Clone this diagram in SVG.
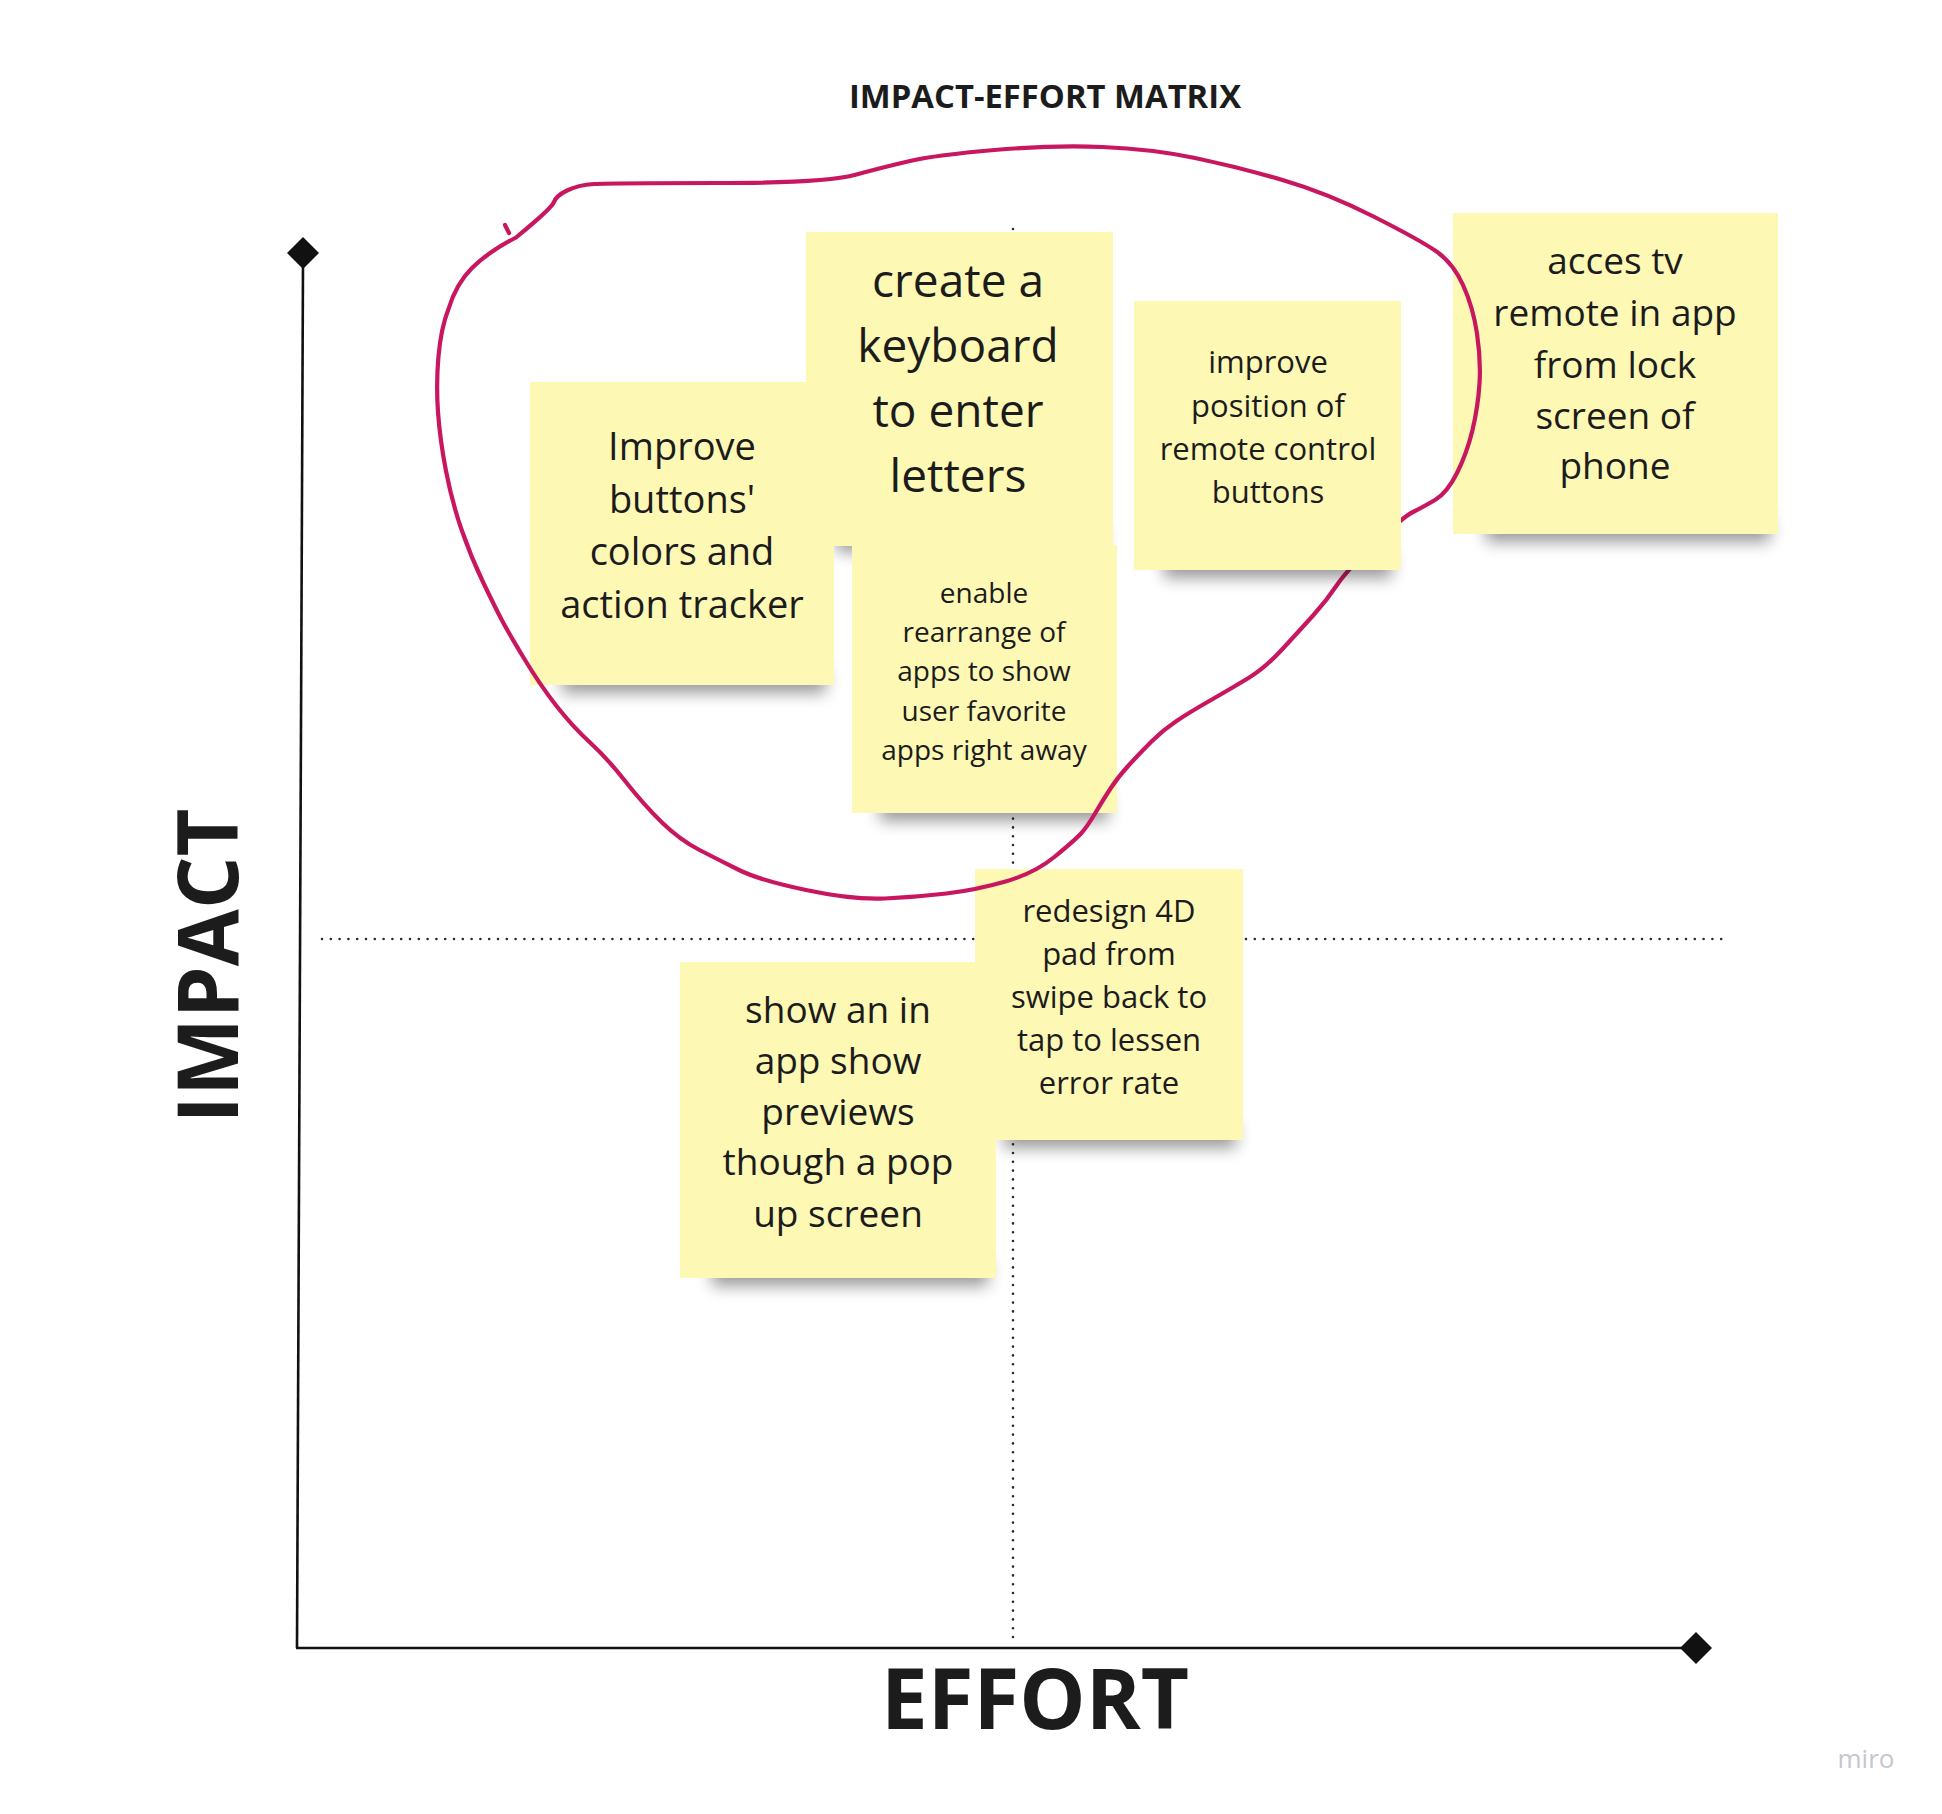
<svg xmlns="http://www.w3.org/2000/svg" width="1942" height="1814" viewBox="0 0 1942 1814">
<defs>
<style>
.note{fill:#fef8b5}
.sh{fill:#000;opacity:0.4;filter:url(#blur)}
.t{font-family:"Open Sans","Noto Sans","Liberation Sans",sans-serif;fill:#1c1c1c;text-anchor:middle}
.b{font-family:"Open Sans","Noto Sans","Liberation Sans",sans-serif;font-weight:700;fill:#1c1c1c;text-anchor:middle}
.dot{stroke:#2a2a2a;stroke-width:2.6;stroke-linecap:round;stroke-dasharray:0 8.8;fill:none}
.axis{stroke:#111;stroke-width:2.6;fill:none}
</style>
<filter id="blur" x="-20%" y="-80%" width="140%" height="260%"><feGaussianBlur stdDeviation="8"/></filter>
</defs>
<rect width="1942" height="1814" fill="#fff"/>
<text class="b" x="1045" y="108" font-size="32" textLength="392" lengthAdjust="spacingAndGlyphs">IMPACT-EFFORT MATRIX</text>
<g id="axes">
<line class="dot" x1="1013" y1="229" x2="1013" y2="1644"/>
<line class="dot" x1="322" y1="939" x2="1722" y2="939"/>
<line class="axis" x1="303" y1="262" x2="297" y2="1648"/>
<line class="axis" x1="296" y1="1648" x2="1690" y2="1648"/>
<polygon points="303,237 319,253 303,269 287,253" fill="#111"/>
<polygon points="1696,1632 1712,1648 1696,1664 1680,1648" fill="#111"/>
<text class="b" transform="translate(238,966) rotate(-90)" font-size="85" textLength="315" lengthAdjust="spacingAndGlyphs">IMPACT</text>
<text class="b" x="1035" y="1729" font-size="85" textLength="308" lengthAdjust="spacingAndGlyphs">EFFORT</text>
</g>
<g id="note-keyboard">
<rect class="sh" x="836" y="528" width="268" height="24"/>
<rect class="note" x="806" y="232" width="307" height="314"/>
<text class="t" font-size="46"><tspan x="958" y="297">create a</tspan><tspan x="958" y="362">keyboard</tspan><tspan x="958" y="427">to enter</tspan><tspan x="958" y="492">letters</tspan></text>
</g>
<g id="note-improve-buttons">
<rect class="sh" x="562" y="667" width="264" height="26"/>
<rect class="note" x="530" y="382" width="304" height="303"/>
<text class="t" font-size="38"><tspan x="682" y="460">Improve</tspan><tspan x="682" y="513">buttons'</tspan><tspan x="682" y="565">colors and</tspan><tspan x="682" y="618">action tracker</tspan></text>
</g>
<g id="note-enable">
<rect class="sh" x="880" y="795" width="228" height="26"/>
<rect class="note" x="852" y="545" width="265" height="268"/>
<text class="t" font-size="28"><tspan x="984" y="603">enable</tspan><tspan x="984" y="642">rearrange of</tspan><tspan x="984" y="681">apps to show</tspan><tspan x="984" y="721">user favorite</tspan><tspan x="984" y="760">apps right away</tspan></text>
</g>
<g id="note-acces">
<rect class="sh" x="1486" y="516" width="284" height="26"/>
<rect class="note" x="1453" y="213" width="325" height="321"/>
<text class="t" font-size="37"><tspan x="1615" y="274">acces tv</tspan><tspan x="1615" y="326">remote in app</tspan><tspan x="1615" y="378">from lock</tspan><tspan x="1615" y="429">screen of</tspan><tspan x="1615" y="479">phone</tspan></text>
</g>
<g id="note-redesign">
<rect class="sh" x="1004" y="1122" width="232" height="26"/>
<rect class="note" x="975" y="869" width="268" height="271"/>
<text class="t" font-size="31"><tspan x="1109" y="922">redesign 4D</tspan><tspan x="1109" y="965">pad from</tspan><tspan x="1109" y="1008">swipe back to</tspan><tspan x="1109" y="1051">tap to lessen</tspan><tspan x="1109" y="1094">error rate</tspan></text>
</g>
<g id="note-show">
<rect class="sh" x="712" y="1260" width="276" height="26"/>
<rect class="note" x="680" y="962" width="316" height="316"/>
<text class="t" font-size="37"><tspan x="838" y="1023">show an in</tspan><tspan x="838" y="1074">app show</tspan><tspan x="838" y="1125">previews</tspan><tspan x="838" y="1175">though a pop</tspan><tspan x="838" y="1227">up screen</tspan></text>
</g>
<g id="loop" fill="none" stroke="#c8175f" stroke-width="4.2" stroke-linecap="round" stroke-linejoin="round">
<path d="M516,237.5 Q552,208 554,202 Q556,196 567,190.5 Q578,185 594,184 Q610,183 717.5,183 Q825,183 854.5,175 Q884,167 910,161 Q936,155 994.5,150 Q1053,145 1102.5,147 Q1152,149 1195,158 Q1238,167 1282.5,180 Q1327,193 1373.5,216.5 Q1420,240 1436.5,251.5 Q1453,263 1463,285 Q1473,307 1477,333.5 Q1481,360 1479.5,383.5 Q1478,407 1472.5,430 Q1467,453 1457,473 Q1447,493 1435,500 Q1423,507 1413,512 Q1403,517 1375,543.5 Q1347,570 1337,585 Q1327,600 1313.5,615 Q1300,630 1282.5,649 Q1265,668 1248.5,678 Q1232,688 1211,700 Q1190,712 1176.5,721 Q1163,730 1151.5,741.5 Q1140,753 1129,765 Q1118,777 1110.5,788.5 Q1103,800 1095,813.5 Q1087,827 1081,833.5 Q1075,840 1055,856.5 Q1035,873 1005.5,881.5 Q976,890 946.5,893.5 Q917,897 885,898.5 Q853,900 806,890 Q759,880 739,870 Q719,860 699.5,850 Q680,840 662,822.5 Q644,805 625.5,781.5 Q607,758 590,742.5 Q573,727 556.5,706 Q540,685 523.5,657.5 Q507,630 501,618.5 Q495,607 483,582 Q471,557 461.5,529.5 Q452,502 446,471 Q440,440 438,412 Q436,384 438.5,356 Q441,328 448.5,309 Q456,284 472,268 Q488,252 516,237.5"/>
<path d="M505,225 L509,233"/>
</g>
<g id="note-position">
<rect class="sh" x="1164" y="552" width="228" height="26"/>
<rect class="note" x="1134" y="301" width="267" height="269"/>
<text class="t" font-size="31"><tspan x="1268" y="373">improve</tspan><tspan x="1268" y="417">position of</tspan><tspan x="1268" y="460">remote control</tspan><tspan x="1268" y="503">buttons</tspan></text>
</g>
<text x="1866" y="1768" font-family="'Open Sans','Noto Sans',sans-serif" font-size="26" fill="#c6c6d0" text-anchor="middle">miro</text>
</svg>
